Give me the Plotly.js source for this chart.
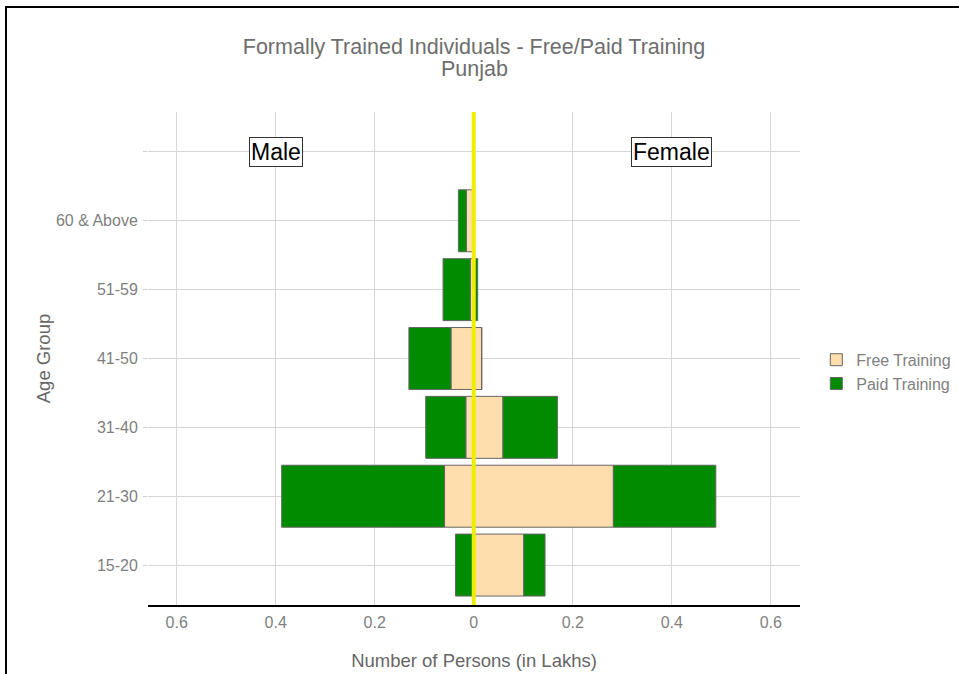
<!DOCTYPE html>
<html>
<head>
<meta charset="utf-8">
<script src="https://cdn.plot.ly/plotly-3.0.1.min.js"></script>
<style>
html,body{margin:0;padding:0;background:#fff;}
#wrap{position:relative;width:959px;height:674px;overflow:hidden;}
#chart{position:absolute;left:0;top:0;width:959px;height:674px;}
#frame{position:absolute;left:5px;top:6px;width:1000px;height:1000px;border-left:2px solid #000;border-top:2px solid #000;pointer-events:none;}
</style>
</head>
<body>
<div id="wrap"><div id="chart"></div><div id="frame"></div></div>
<script>
// Age groups (bottom to top)
var ageGroups = ["15-20", "21-30", "31-40", "41-50", "51-59", "60 & Above"];
// values in lakhs
var maleFree   = [0.000, 0.059, 0.016, 0.046, 0.007, 0.015];
var malePaid   = [0.037, 0.329, 0.081, 0.085, 0.055, 0.016];
var femaleFree = [0.101, 0.282, 0.059, 0.016, 0.000, 0.000];
var femalePaid = [0.043, 0.207, 0.110, 0.000, 0.008, 0.000];
var xTickVals = [-0.6, -0.4, -0.2, 0, 0.2, 0.4, 0.6];
var xTickText = ["0.6", "0.4", "0.2", "0", "0.2", "0.4", "0.6"];
var sideLabels = ["Male", "Female"];
var titleLine = "Formally Trained Individuals - Free/Paid Training";
var subtitleLine = "Punjab";

var pos = ageGroups.map(function(_, i){ return i + 1; });
var freeColor = "#FFDEAD", paidColor = "#008B00", edge = "#666666";

function bar(name, xs, color, show, group){
  return {
    type: "bar", orientation: "h", name: name, y: pos, x: xs, width: 0.9,
    marker: {color: color, line: {color: edge, width: 1}},
    legendgroup: group, showlegend: show, hoverinfo: "x+y"
  };
}

var traces = [
  bar("Free Training", maleFree.map(function(v){return -v;}), freeColor, true, "free"),
  bar("Free Training", femaleFree, freeColor, false, "free"),
  bar("Paid Training", malePaid.map(function(v){return -v;}), paidColor, true, "paid"),
  bar("Paid Training", femalePaid, paidColor, false, "paid")
];

var gray = "#7f7f7f";
var layout = {
  width: 959, height: 674,
  margin: {l: 148, r: 159, t: 112, b: 69, autoexpand: false},
  barmode: "relative",
  paper_bgcolor: "#fff", plot_bgcolor: "#fff",
  font: {family: "Liberation Sans, Arial, sans-serif", color: gray},
  title: {
    text: titleLine,
    x: 0.5, xref: "paper", xanchor: "center",
    y: 1 - 46/674, yref: "container", yanchor: "middle",
    font: {size: 21.5, color: "#6e6e6e"}
  },
  xaxis: {
    range: [-0.658, 0.659], tickvals: xTickVals, ticktext: xTickText,
    showgrid: true, gridcolor: "#d6d6d6", gridwidth: 1, zeroline: false,
    showline: true, linecolor: "#000", linewidth: 1.5,
    ticks: "", ticklabelstandoff: 2, tickfont: {size: 16, color: gray},
    title: {text: "Number of Persons (in Lakhs)", font: {size: 18.5, color: "#666"}, standoff: 24}
  },
  yaxis: {
    range: [0.42, 7.58],
    tickvals: pos.concat([7]), ticktext: ageGroups.concat([""]),
    showgrid: true, gridcolor: "#d6d6d6", gridwidth: 1, zeroline: false,
    showline: false, ticks: "outside", ticklen: 4, tickcolor: "#cfcfcf", tickwidth: 1,
    ticklabelstandoff: 2,
    tickfont: {size: 16, color: gray},
    title: {text: "Age Group", font: {size: 18.5, color: "#666"}, standoff: 0}
  },
  legend: {
    x: 1.025, xanchor: "left", y: 0.473, yanchor: "middle",
    font: {size: 16, color: gray}, bgcolor: "rgba(0,0,0,0)",
    tracegroupgap: 0, itemwidth: 30
  },
  shapes: [{
    type: "line", xref: "x", yref: "paper", x0: 0, x1: 0, y0: 0, y1: 1,
    line: {color: "#EEEE00", width: 4}, layer: "above"
  }],
  annotations: [
    {x: 0.5, y: (605 - 69) / 493, xref: "paper", yref: "paper", text: subtitleLine, showarrow: false,
     xanchor: "center", yanchor: "middle", font: {size: 21.5, color: "#6e6e6e"}},
    {x: -0.4, y: 7, xref: "x", yref: "y", text: sideLabels[0], showarrow: false,
     font: {size: 23, color: "#000"}, bgcolor: "#fff", bordercolor: "#333", borderwidth: 1, borderpad: 1},
    {x: 0.4, y: 7, xref: "x", yref: "y", text: sideLabels[1], showarrow: false,
     font: {size: 23, color: "#000"}, bgcolor: "#fff", bordercolor: "#333", borderwidth: 1, borderpad: 1}
  ]
};

Plotly.newPlot("chart", traces, layout, {displayModeBar: false, staticPlot: true});
</script>
</body>
</html>
